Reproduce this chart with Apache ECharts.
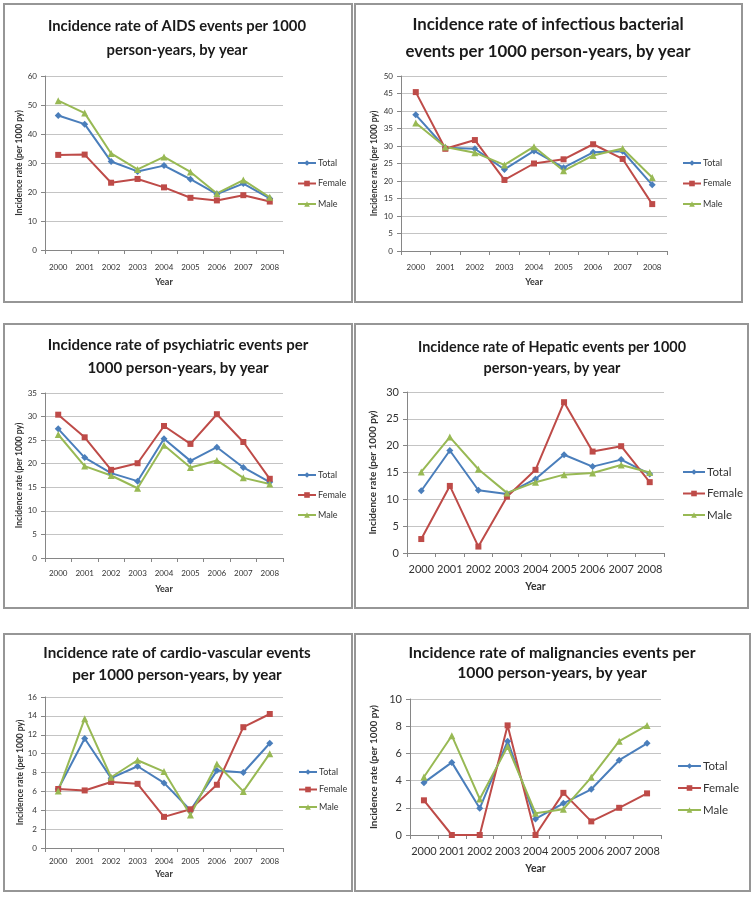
<!DOCTYPE html>
<html><head><meta charset="utf-8">
<script src="https://cdn.jsdelivr.net/npm/echarts@6/dist/echarts.min.js"></script>
<style>
body{margin:0;background:#fff;width:755px;height:897px;position:relative;overflow:hidden}
.c{position:absolute}
.b{position:absolute;box-sizing:border-box;border:2px solid #969696;pointer-events:none}
</style></head><body>
<div id="root"></div>
<script>
const years = ['2000','2001','2002','2003','2004','2005','2006','2007','2008'];
const seriesNames = ['Total','Female','Male'];

const aidsTotal  = [46.4,43.4,30.5,27.1,29.1,24.4,19.3,22.9,17.8];
const aidsFemale = [32.8,32.9,23.2,24.5,21.6,18.0,17.1,18.9,16.7];
const aidsMale   = [51.5,47.2,33.3,27.8,32.1,26.9,19.5,24.1,18.2];

const bactTotal  = [38.9,29.5,29.2,23.3,28.6,23.8,28.2,28.5,18.9];
const bactFemale = [45.4,29.2,31.7,20.3,25.0,26.2,30.5,26.3,13.4];
const bactMale   = [36.6,29.7,28.1,24.6,29.8,22.9,27.3,29.3,21.0];

const psyTotal  = [27.4,21.3,18.0,16.3,25.3,20.6,23.5,19.2,16.1];
const psyFemale = [30.4,25.6,18.7,20.1,28.0,24.2,30.5,24.6,16.8];
const psyMale   = [26.2,19.5,17.5,14.8,23.9,19.2,20.7,17.0,15.7];

const hepTotal  = [11.6,19.1,11.7,11.0,13.8,18.3,16.1,17.4,14.7];
const hepFemale = [2.6,12.5,1.2,10.5,15.5,28.1,18.9,19.9,13.2];
const hepMale   = [15.1,21.6,15.6,11.2,13.2,14.6,14.9,16.4,15.0];

const cvTotal  = [6.25,11.6,7.4,8.66,6.9,4.0,8.2,8.0,11.1];
const cvFemale = [6.25,6.1,7.0,6.8,3.3,4.1,6.7,12.8,14.2];
const cvMale   = [6.05,13.7,7.5,9.3,8.1,3.5,8.9,6.0,10.0];

const malTotal  = [3.85,5.34,1.96,6.9,1.18,2.33,3.36,5.5,6.74];
const malFemale = [2.55,0,0,8.06,0,3.1,1.0,2.0,3.06];
const malMale   = [4.26,7.3,2.65,6.5,1.6,1.9,4.24,6.9,8.06];

const titles = [
  'Incidence rate of AIDS events per 1000\nperson-years, by year',
  'Incidence rate of infectious bacterial\nevents per 1000 person-years, by year',
  'Incidence rate of psychiatric events per\n1000 person-years, by year',
  'Incidence rate of Hepatic events per 1000\nperson-years, by year',
  'Incidence rate of cardio-vascular events\nper 1000 person-years, by year',
  'Incidence rate of malignancies events per\n1000 person-years, by year'
];
const yMaxes = [60, 50, 35, 30, 16, 10];
const yIntervals = [10, 5, 5, 5, 2, 2];
const yAxisTitle = 'Incidence rate (per 1000 py)';
const xAxisTitle = 'Year';

const panelData = [
  [aidsTotal, aidsFemale, aidsMale],
  [bactTotal, bactFemale, bactMale],
  [psyTotal, psyFemale, psyMale],
  [hepTotal, hepFemale, hepMale],
  [cvTotal, cvFemale, cvMale],
  [malTotal, malFemale, malMale]
];

// layout (styles only)
const layouts = [
  {box:[3,3,350,300], tx:174, tt:11, ts:14.8, tlh:24, grid:[42,73,238,174], lg:[294,160,20.5], lf:9, llh:10, liw:18, tf:8, yng:21, xlm:13, xng:28, nf:8.5},
  {box:[354,3,389,300], tx:194, tt:8.5, ts:16.8, tlh:27, grid:[47,73,266,175], lg:[328,160,20.5], lf:9, llh:10, liw:18, tf:8, yng:22.5, xlm:12, xng:27, nf:8.5},
  {box:[3,323,350,286], tx:175, tt:10.5, ts:15, tlh:23, grid:[42,70,238,165], lg:[294,152,20], lf:9, llh:10, liw:18, tf:8, yng:21, xlm:11, xng:27, nf:8.5},
  {box:[354,323,395,286], tx:198, tt:13.5, ts:14.4, tlh:21, grid:[53,69,257,161], lg:[328,149,21.5], lf:11.5, llh:13, liw:22, tf:11, yng:29, xlm:10.5, xng:28, nf:10},
  {box:[3,633,350,259], tx:174, tt:9, ts:15.2, tlh:22, grid:[42,64,238,151], lg:[295,139,17.5], lf:9, llh:10, liw:18, tf:8, yng:20, xlm:9, xng:22, nf:8.5},
  {box:[354,633,397,259], tx:198, tt:10, ts:15.7, tlh:20, grid:[56,66,251,136], lg:[323,133,22], lf:11.5, llh:13, liw:23, tf:11, yng:31, xlm:10.5, xng:28, nf:10}
];

const colors = ['#4a7ebb','#be4b48','#98b954'];
const symbols = ['diamond','rect','triangle'];
const symSizes = [7,6,7];
const FONT = "Lato,'Liberation Sans',sans-serif";

const root = document.getElementById('root');
layouts.forEach((L, i) => {
  const [bx,by,bw,bh] = L.box;
  const d = document.createElement('div');
  d.className = 'c';
  d.style.cssText = `left:${bx}px;top:${by}px;width:${bw}px;height:${bh}px`;
  root.appendChild(d);
  const b = document.createElement('div');
  b.className = 'b';
  b.style.cssText = `left:${bx}px;top:${by}px;width:${bw}px;height:${bh}px`;
  root.appendChild(b);

  const chart = echarts.init(d, null, {renderer:'canvas'});
  const [gl,gt,gw,gh] = L.grid;
  const opt = {
    animation:false,
    color: colors,
    title:{
      text: titles[i], left: L.tx, top: L.tt, textAlign:'center', padding:0,
      textStyle:{fontFamily:FONT, fontSize:L.ts, fontWeight:'bold', color:'#1a1a1a', lineHeight:L.tlh}
    },
    legend:{
      orient:'vertical', left:L.lg[0], top:L.lg[1]-L.llh/2, itemGap:L.lg[2]-L.llh, padding:0,
      itemWidth:L.liw, itemHeight:7, data:seriesNames,
      textStyle:{fontFamily:FONT, fontSize:L.lf, color:'#333', lineHeight:L.llh, padding:[0,0,0,-3]}
    },
    grid:{left:gl, top:gt, width:gw, height:gh, containLabel:false},
    xAxis:{
      type:'category', data:years, boundaryGap:true,
      name:xAxisTitle, nameLocation:'middle', nameGap:L.xng, nameMoveOverlap:false,
      nameTextStyle:{fontFamily:FONT, fontSize:L.nf+0.5, fontWeight:'bold', color:'#333'},
      axisLine:{lineStyle:{color:'#868686', width:1}},
      axisTick:{show:true, alignWithLabel:false, length:4, lineStyle:{color:'#868686'}},
      axisLabel:{fontFamily:FONT, fontSize:L.tf, color:'#333', margin:L.xlm, interval:0},
      splitLine:{show:false}
    },
    yAxis:{
      type:'value', min:0, max:yMaxes[i], interval:yIntervals[i],
      name:yAxisTitle, nameLocation:'middle', nameGap:L.yng, nameRotate:90, nameMoveOverlap:false,
      nameTextStyle:{fontFamily:FONT, fontSize:L.nf, fontWeight:'bold', color:'#333'},
      axisLine:{show:true, lineStyle:{color:'#868686', width:1}},
      axisTick:{show:true, length:4, lineStyle:{color:'#868686'}},
      axisLabel:{fontFamily:FONT, fontSize:L.tf, color:'#333', margin:8},
      splitLine:{show:true, lineStyle:{color:'#c4c4c4', width:1}}
    },
    series: seriesNames.map((n, k) => ({
      name:n, type:'line', data:panelData[i][k],
      symbol:symbols[k], symbolSize:symSizes[k],
      lineStyle:{width:2, color:colors[k]},
      itemStyle:{color:colors[k]},
      emphasis:{disabled:true}
    }))
  };
  chart.setOption(opt);
});
</script>
</body></html>
